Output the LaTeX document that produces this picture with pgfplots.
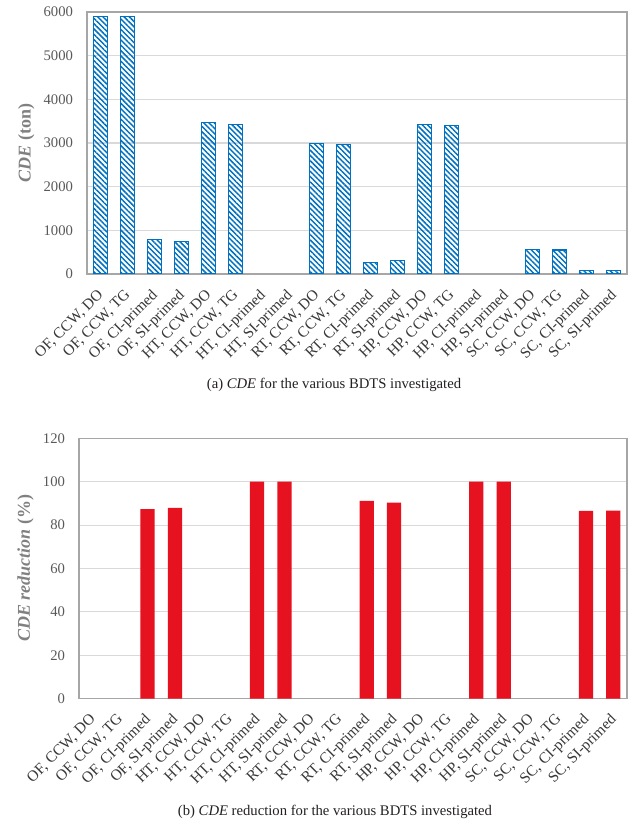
\documentclass[border=0pt]{standalone}
\usepackage{fontspec}
\setmainfont{Liberation Serif}
\usepackage{pgfplots}
\pgfplotsset{compat=1.18}
\usetikzlibrary{patterns.meta}
\definecolor{barblue}{RGB}{0,112,192}
\definecolor{barred}{RGB}{230,18,32}
\definecolor{gridgray}{RGB}{217,217,217}
\definecolor{axgray}{RGB}{166,166,166}
\definecolor{ticktxt}{RGB}{89,89,89}
\definecolor{labtxt}{RGB}{128,128,128}
\definecolor{captxt}{RGB}{35,31,32}
\pgfplotsset{
  cdebase/.style={
    scale only axis, anchor=south west,
    xmin=-0.5, xmax=19.5, ymin=0,
    xtick={0,...,19},
    xticklabels={{OF, CCW, DO},{OF, CCW, TG},{OF, CI-primed},{OF, SI-primed},
                 {HT, CCW, DO},{HT, CCW, TG},{HT, CI-primed},{HT, SI-primed},
                 {RT, CCW, DO},{RT, CCW, TG},{RT, CI-primed},{RT, SI-primed},
                 {HP, CCW, DO},{HP, CCW, TG},{HP, CI-primed},{HP, SI-primed},
                 {SC, CCW, DO},{SC, CCW, TG},{SC, CI-primed},{SC, SI-primed}},
    x tick label style={xshift=-3pt, yshift=-9pt, rotate=45, anchor=north east, inner sep=1pt,
      font=\fontsize{11.5}{13}\selectfont, text=black!78},
    y tick label style={font=\fontsize{11}{13}\selectfont, text=ticktxt, xshift=-7pt},
    major tick length=0pt,
    ymajorgrids, grid style={gridgray, line width=0.8pt},
    axis line style={axgray, line width=1pt},
    /pgf/number format/assume math mode=true,
    /pgf/number format/1000 sep={},
    scaled y ticks=false,
    ylabel style={font=\fontsize{13.5}{15}\selectfont\bfseries, text=labtxt},
  }
}
\begin{document}
\begin{tikzpicture}
\useasboundingbox (0,0) rectangle (471pt,616.5pt);
% (a)
\begin{axis}[cdebase,
  at={(65.25pt,411pt)}, width=405pt, height=196.5pt,
  ymax=6000, ytick={0,1000,...,6000},
  ylabel={\textit{CDE} (ton)}]
\addplot[ybar, bar width=10.5pt, draw=barblue, line width=0.8pt,
  pattern={Lines[angle=-45,distance=2.8pt,line width=1.1pt]}, pattern color=barblue]
  coordinates {(0,5890) (1,5890) (2,780) (3,740) (4,3470) (5,3430)
               (8,2980) (9,2960) (10,270) (11,300) (12,3430) (13,3390)
               (16,565) (17,550) (18,78) (19,82)};
\end{axis}
\node[font=\fontsize{11}{13}\selectfont, text=captxt] at (250.5pt,327.75pt)
  {(a) \textit{CDE} for the various BDTS investigated};
% (b)
\begin{axis}[cdebase,
  at={(59.25pt,92.5pt)}, width=411pt, height=195.3pt,
  ymax=120, ytick={0,20,...,120},
  ylabel={\textit{CDE reduction} (\%)}]
\addplot[ybar, bar width=10.7pt, draw=none, fill=barred]
  coordinates {(2,87.3) (3,87.9) (6,100) (7,100)
               (10,91.2) (11,90.3) (14,100) (15,100)
               (18,86.5) (19,86.6)};
\end{axis}
\node[font=\fontsize{11}{13}\selectfont, text=captxt] at (251.25pt,7.5pt)
  {(b) \textit{CDE} reduction for the various BDTS investigated};
\end{tikzpicture}
\end{document}
